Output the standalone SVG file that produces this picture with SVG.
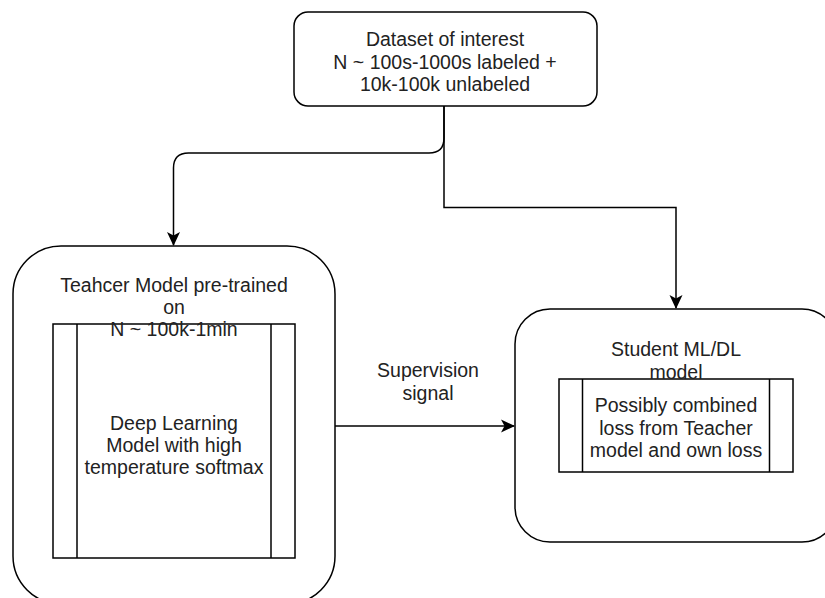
<svg xmlns="http://www.w3.org/2000/svg" width="825" height="598" viewBox="0 0 825 598">
<style>
.box{fill:#fff;stroke:#000;stroke-width:1.5}
.inner{fill:none;stroke:#000;stroke-width:1.5}
.edge{fill:none;stroke:#000;stroke-width:1.5}
text{font-family:"Liberation Sans",Arial,sans-serif;font-size:19.5px;fill:#222;text-anchor:middle}
</style>
<defs>
<marker id="arr" markerUnits="userSpaceOnUse" markerWidth="14" markerHeight="14" viewBox="0 0 14 14" refX="13" refY="7" orient="auto">
<path d="M0,0.5 L14,7 L0,13.5 L3.5,7 Z" fill="#000"/>
</marker>
</defs>
<rect width="825" height="598" fill="#fff"/>
<g id="connectors">
<path class="edge" d="M444,106 V138 Q444,153 429,153 H188.5 Q173.5,153 173.5,168 V245" marker-end="url(#arr)"/>
<path class="edge" d="M444,106 V207.5 H676 V308" marker-end="url(#arr)"/>
<path class="edge" d="M335,426 H514" marker-end="url(#arr)"/>
<text x="428" y="377">Supervision</text>
<text x="428" y="399.5">signal</text>
</g>
<g id="dataset">
<rect class="box" x="294" y="12" width="303" height="94" rx="14" ry="14"/>
<text x="445" y="45.5">Dataset of interest</text>
<text x="445" y="68.5">N ~ 100s-1000s labeled +</text>
<text x="445" y="91">10k-100k unlabeled</text>
</g>
<g id="teacher">
<rect class="box" x="13" y="246" width="322" height="358" rx="48" ry="48"/>
<rect class="inner" x="53" y="324" width="242" height="234"/>
<line class="inner" x1="77" y1="324" x2="77" y2="558"/>
<line class="inner" x1="271" y1="324" x2="271" y2="558"/>
<text x="174" y="292">Teahcer Model pre-trained</text>
<text x="174" y="314">on</text>
<text x="174" y="336">N ~ 100k-1min</text>
<text x="174" y="429.5">Deep Learning</text>
<text x="174" y="451.5">Model with high</text>
<text x="174" y="473.5">temperature softmax</text>
</g>
<g id="student">
<rect class="box" x="515" y="309" width="322" height="233" rx="35" ry="35"/>
<rect class="inner" x="559" y="379" width="234" height="93"/>
<line class="inner" x1="582.5" y1="379" x2="582.5" y2="472"/>
<line class="inner" x1="769.5" y1="379" x2="769.5" y2="472"/>
<text x="676" y="356">Student ML/DL</text>
<text x="676" y="378.5">model</text>
<text x="676" y="412">Possibly combined</text>
<text x="676" y="434.5">loss from Teacher</text>
<text x="676" y="457">model and own loss</text>
</g>
</svg>
